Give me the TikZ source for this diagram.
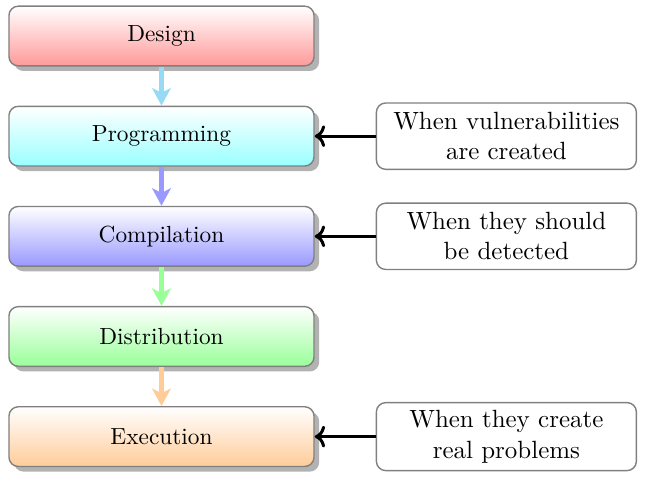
\documentclass[tikz,border=0pt]{standalone}
\usetikzlibrary{shadows,arrows.meta}
\definecolor{skyarrow}{RGB}{150,218,245}
\tikzset{
  stage/.style={draw=gray, rounded corners=4pt, line width=0.6pt, minimum width=4.6cm, minimum height=0.9cm, top color=white, drop shadow={shadow xshift=2.2pt, shadow yshift=-2.2pt, fill=black, opacity=.3}},
  note/.style={draw=gray, rounded corners=4pt, line width=0.6pt, fill=white, align=center, minimum width=3.92cm, minimum height=1cm, font=\fontsize{10.7}{13}\selectfont},
  flow/.style={line width=2.4pt, -{Stealth[length=7.5pt, width=8pt, inset=2pt]}},
  hook/.style={line width=1.3pt, ->},
}
\begin{document}
\begin{tikzpicture}[node distance=1.51cm]
\useasboundingbox (-2.435,0.543) rectangle (7.29,-6.77);
\node[stage, bottom color=red!40] (design) {Design};
\node[stage, bottom color=cyan!40, below of=design] (programming) {Programming};
\node[stage, bottom color=blue!40, below of=programming] (compilation) {Compilation};
\node[stage, bottom color=green!40, below of=compilation] (distribution) {Distribution};
\node[stage, bottom color=orange!40, below of=distribution] (execution) {Execution};
\node[note, right of=programming, node distance=5.2cm] (created) {When vulnerabilities\\ are created};
\node[note, right of=compilation, node distance=5.2cm] (detected) {When they should\\ be detected};
\node[note, right of=execution, node distance=5.2cm] (problems) {When they create\\ real problems};
\draw[flow, skyarrow] (design) -- (programming);
\draw[flow, blue!40] (programming) -- (compilation);
\draw[flow, green!40] (compilation) -- (distribution);
\draw[flow, orange!40] (distribution) -- (execution);
\draw[hook] (created) -- (programming);
\draw[hook] (detected) -- (compilation);
\draw[hook] (problems) -- (execution);
\end{tikzpicture}
\end{document}
